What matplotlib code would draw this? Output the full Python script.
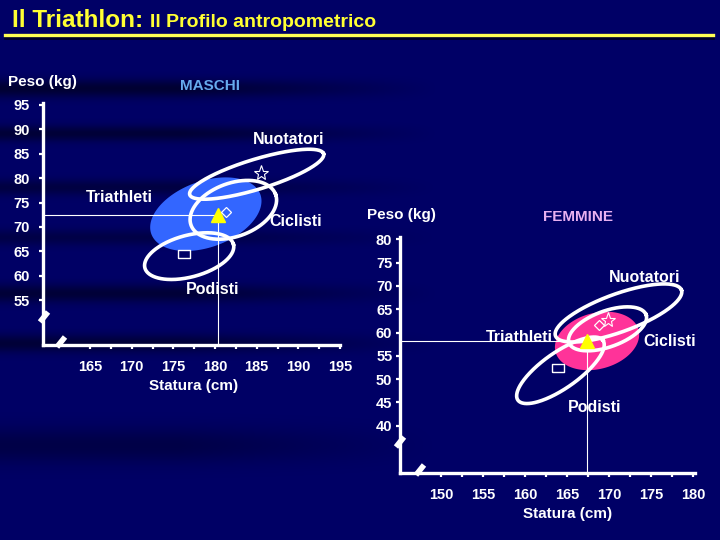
import numpy as np
import matplotlib.pyplot as plt
from matplotlib.lines import Line2D

plt.rcParams['font.family'] = ['Liberation Sans', 'DejaVu Sans']
plt.rcParams['font.weight'] = 'bold'

W, H = 720, 540
BG = '#000064'

# groups: Triathleti (filled), Nuotatori, Ciclisti, Podisti
groups = ['Triathleti', 'Nuotatori', 'Ciclisti', 'Podisti']

# MASCHI - ellipse centre (statura cm, peso kg), semi-axes (cm), tilt (deg)
m_cx = [178.9, 185.0, 182.2, 176.9]
m_cy = [72.6, 80.8, 73.5, 64.0]
m_a = [6.96, 8.4, 5.4, 5.5]
m_b = [3.96, 1.8, 3.2, 2.5]
m_tilt = [20, 17, 20, 15]
m_mean_x = [180.3, 185.5, 181.3, 176.3]
m_mean_y = [72.5, 81.1, 73.1, 64.4]
m_yticks = [55, 60, 65, 70, 75, 80, 85, 90, 95]
m_xticks = [165, 170, 175, 180, 185, 190, 195]

# FEMMINE
f_cx = [168.55, 171.1, 169.8, 164.2]
f_cy = [58.2, 64.2, 60.8, 51.9]
f_a = [5.11, 7.97, 4.88, 6.18]
f_b = [3.33, 2.26, 2.14, 2.14]
f_tilt = [15, 20, 20, 35]
f_mean_x = [167.4, 169.8, 168.8, 163.9]
f_mean_y = [58.2, 62.7, 61.6, 52.4]
f_yticks = [40, 45, 50, 55, 60, 65, 70, 75, 80]
f_xticks = [150, 155, 160, 165, 170, 175, 180]


def fx(x):
    return x / W


def fy(y):
    return 1 - y / H


fig = plt.figure(figsize=(7.2, 5.4), dpi=100, facecolor=BG)

# background with soft dark streaks on the left side
yy, xx = np.mgrid[0:H, 0:W]
shade = np.ones((H, W))
fade = np.clip((440 - xx) / 260, 0, 1)
for y0, wd, k in [(88, 9, 0.5), (133, 8, 0.45), (187, 8, 0.35), (237, 8, 0.3),
                  (293, 9, 0.45), (343, 9, 0.45), (445, 18, 0.3)]:
    shade -= k * np.exp(-((yy - y0) / wd) ** 2) * fade
img = np.zeros((H, W, 3))
img[..., 2] = 0.40 * np.clip(shade, 0.3, 1)
bg = fig.add_axes([0, 0, 1, 1])
bg.imshow(img, aspect='auto', interpolation='bilinear')
bg.axis('off')


def ellipse_xy(ax, cx, cy, a, b, tilt):
    # ellipse drawn with visual tilt, converting cm to kg through the axes scale
    pos = ax.get_position()
    x0, x1 = ax.get_xlim()
    y0, y1 = ax.get_ylim()
    ratio = (pos.width * W / (x1 - x0)) / (pos.height * H / (y1 - y0))
    t = np.linspace(0, 2 * np.pi, 300)
    th = np.radians(tilt)
    dx = a * np.cos(t) * np.cos(th) - b * np.sin(t) * np.sin(th)
    dy = (a * np.cos(t) * np.sin(th) + b * np.sin(t) * np.cos(th)) * ratio
    return cx + dx, cy + dy


def make_axes(box, xlim, ylim, xticks, yticks, ypad):
    l, t, r, b = box
    ax = fig.add_axes([fx(l), fy(b), fx(r - l), (b - t) / H])
    ax.set_facecolor('none')
    ax.set_xlim(*xlim)
    ax.set_ylim(*ylim)
    for s in ['top', 'right']:
        ax.spines[s].set_visible(False)
    for s in ['left', 'bottom']:
        ax.spines[s].set_color('white')
        ax.spines[s].set_linewidth(2.4)
    ax.set_xticks(xticks)
    ax.set_xticks(np.arange(xticks[0], xticks[-1] + 0.1, 2.5), minor=True)
    ax.set_yticks(yticks)
    ax.tick_params(axis='both', which='both', colors='white', length=3, width=1.6)
    ax.tick_params(axis='x', which='major', labelsize=10.5, pad=8, labelcolor='white')
    ax.tick_params(axis='y', which='major', labelsize=10.5, pad=ypad, labelcolor='white')
    return ax


def draw_panel(ax, cx, cy, a, b, tilt, mx, my, fill):
    ex, ey = ellipse_xy(ax, cx[0], cy[0], a[0], b[0], tilt[0])
    ax.fill(ex, ey, color=fill, lw=0, zorder=1)
    ax.plot([ax.get_xlim()[0], mx[0]], [my[0], my[0]], color='white', lw=0.8, zorder=2)
    ax.plot([mx[0], mx[0]], [ax.get_ylim()[0], my[0]], color='white', lw=0.8, zorder=2)
    for i in range(1, 4):
        ex, ey = ellipse_xy(ax, cx[i], cy[i], a[i], b[i], tilt[i])
        ax.plot(ex, ey, color='white', lw=2.6, zorder=3)
    ax.plot(mx[0], my[0], marker='^', color='#ffff00', ms=10, mec='#ffff00', zorder=6)
    ax.plot(mx[1], my[1], marker='*', mfc='none', mec='white', ms=11, mew=0.8, zorder=6)
    ax.plot(mx[2], my[2], marker='D', mfc='none', mec='white', ms=5, mew=0.9, zorder=6)
    ax.plot(mx[3], my[3], marker=[(-1.4, -1), (1.4, -1), (1.4, 1), (-1.4, 1), (-1.4, -1)],
            mfc='none', mec='white', ms=8, mew=1.0, zorder=6)


def brk(x, y):
    # axis break mark, pixel coordinates
    fig.add_artist(Line2D([fx(x - 4), fx(x + 4)], [fy(y + 5), fy(y - 5)],
                          color='white', lw=4, solid_capstyle='butt'))


def label(x, y, s, size=11.5, color='white', ha='left'):
    fig.text(fx(x), fy(y), s, fontsize=size, color=color, va='center', ha=ha)


# title
fig.text(fx(12), fy(27), 'Il Triathlon:', fontsize=17.5, color='#ffff33', va='baseline')
fig.text(fx(150), fy(27), 'Il Profilo antropometrico', fontsize=14, color='#ffff33',
         va='baseline')
fig.add_artist(Line2D([fx(5), fx(713)], [fy(38), fy(38)], color='black', lw=2, alpha=0.6))
fig.add_artist(Line2D([fx(5), fx(713)], [fy(35), fy(35)], color='#ffff55', lw=2.4))

# MASCHI
axm = make_axes((43, 103, 340, 345), (159.36, 195.0), (45.77, 95.41),
                m_xticks, m_yticks, 6.5)
draw_panel(axm, m_cx, m_cy, m_a, m_b, m_tilt, m_mean_x, m_mean_y, '#3366ff')
brk(44, 317)
brk(61, 342)

label(8, 82, 'Peso (kg)', 11)
label(180, 86, 'MASCHI', 11, '#66aaee')
label(253, 140, 'Nuotatori')
label(86, 197, 'Triathleti')
label(269, 222, 'Ciclisti')
label(186, 290, 'Podisti')
label(194, 386, 'Statura (cm)', 11, ha='center')

# FEMMINE
axf = make_axes((400, 237, 695, 473), (145.12, 180.2), (29.87, 80.5),
                f_xticks, f_yticks, 2.5)
draw_panel(axf, f_cx, f_cy, f_a, f_b, f_tilt, f_mean_x, f_mean_y, '#ff3399')
brk(400, 442)
brk(420, 470)

label(367, 215, 'Peso (kg)', 11)
label(543, 217, 'FEMMINE', 11, '#e8b0f0')
label(609, 277, 'Nuotatori')
label(486, 337, 'Triathleti')
label(643, 341, 'Ciclisti')
label(568, 408, 'Podisti')
label(568, 514, 'Statura (cm)', 11, ha='center')

fig.savefig('out.png', dpi=100, facecolor=BG)
